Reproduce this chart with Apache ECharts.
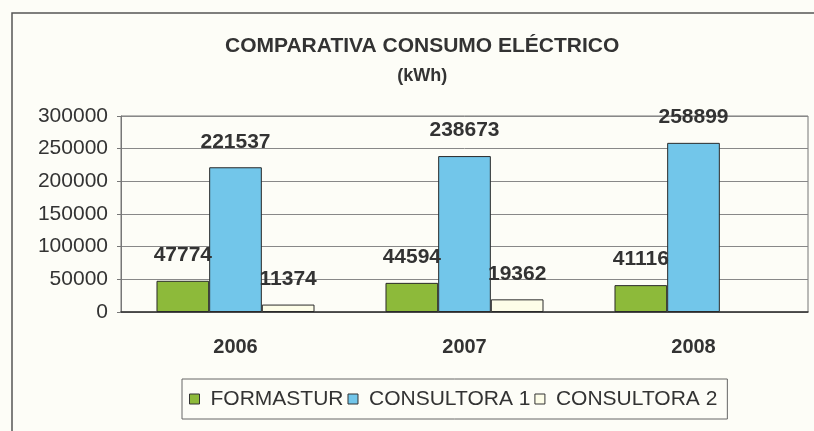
<!DOCTYPE html>
<html><head><meta charset="utf-8">
<script src="https://cdn.jsdelivr.net/npm/echarts@6/dist/echarts.min.js"></script>
<style>html,body{margin:0;padding:0;background:#fdfdf7;overflow:hidden}#c{width:814px;height:431px}</style>
</head><body><div id="c"></div>
<script>
const categories = ['2006', '2007', '2008'];
const formastur = [47774, 44594, 41116];
const consultora1 = [221537, 238673, 258899];
const consultora2 = [11374, 19362, null];
const seriesNames = ['FORMASTUR', 'CONSULTORA 1', 'CONSULTORA 2'];

const FONT = 'Liberation Sans, Arial';
const chart = echarts.init(document.getElementById('c'));
const lbl = {show: true, position: 'top', distance: 15, color: '#333', fontFamily: FONT, fontWeight: 'bold', fontSize: 21};
const mk = (name, data, color) => ({
  name, type: 'bar', data, barGap: '0%', barCategoryGap: '31%',
  itemStyle: {color, borderColor: '#2a2a2a', borderWidth: 1},
  label: lbl
});
chart.setOption({
  backgroundColor: '#fdfdf7',
  animation: false,
  title: {
    text: '{a|COMPARATIVA CONSUMO ELÉCTRICO}\n{b|(kWh)}',
    left: 220, top: 26,
    textStyle: {
      rich: {
        a: {fontFamily: FONT, fontWeight: 'bold', fontSize: 21, color: '#333', lineHeight: 30, align: 'center'},
        b: {fontFamily: FONT, fontWeight: 'bold', fontSize: 18, color: '#333', lineHeight: 30, align: 'center'}
      }
    }
  },
  graphic: [{type: 'polyline', shape: {points: [[12, 431], [12, 13], [814, 13]]}, style: {fill: null, stroke: '#555', lineWidth: 1.5}, silent: true}],
  legend: {
    data: seriesNames, left: 182, top: 379, icon: 'rect',
    borderColor: '#666', borderWidth: 1, padding: [9, 10, 9, 7],
    itemWidth: 10, itemHeight: 10, itemGap: 4,
    itemStyle: {borderColor: '#333', borderWidth: 1},
    textStyle: {fontFamily: FONT, fontSize: 21, lineHeight: 22, color: '#333', padding: [0, 0, 0, 6]}
  },
  grid: {left: 121, right: 6, top: 116, bottom: 119, show: true, borderColor: '#777', borderWidth: 1, containLabel: false},
  xAxis: {
    type: 'category', data: categories,
    axisLine: {lineStyle: {color: '#333', width: 1.5}}, axisTick: {show: false},
    axisLabel: {color: '#333', fontFamily: FONT, fontWeight: 'bold', fontSize: 20, margin: 25}
  },
  yAxis: {
    type: 'value', min: 0, max: 300000, interval: 50000,
    axisLine: {show: true, lineStyle: {color: '#777'}},
    axisTick: {show: true, length: 4, lineStyle: {color: '#777'}},
    splitLine: {lineStyle: {color: '#888', width: 1}},
    axisLabel: {color: '#333', fontFamily: FONT, fontSize: 21, margin: 13, formatter: v => String(v)}
  },
  series: [
    mk(seriesNames[0], formastur, '#8dba3a'),
    mk(seriesNames[1], consultora1, '#72c6ea'),
    mk(seriesNames[2], consultora2, '#fdfde8')
  ]
});
</script></body></html>
